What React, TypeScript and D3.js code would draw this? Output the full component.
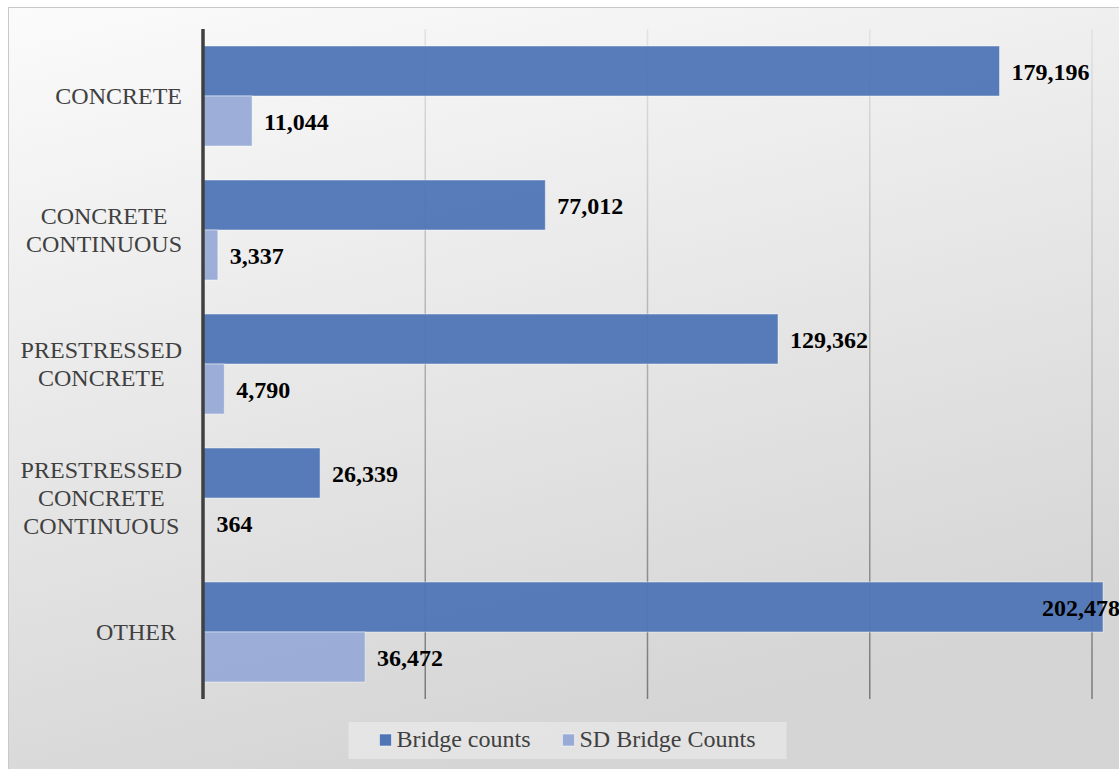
import React, { useEffect, useRef } from 'react';
import * as d3 from 'd3';

const categories = [
  'CONCRETE',
  'CONCRETE\nCONTINUOUS',
  'PRESTRESSED\nCONCRETE',
  'PRESTRESSED\nCONCRETE\nCONTINUOUS',
  'OTHER ',
];
const bridgeCounts = [179196, 77012, 129362, 26339, 202478];
const sdBridgeCounts = [11044, 3337, 4790, 364, 36472];
const seriesNames = ['Bridge counts', 'SD Bridge Counts'];
const seriesColors = ['#4f75b5', '#98abd6'];
const xTicks = [0, 50000, 100000, 150000, 200000];

const W = 1119;
const H = 769;
const FONT = "'Liberation Serif', 'Times New Roman', serif";

export default function App() {
  const ref = useRef<SVGSVGElement>(null);

  useEffect(() => {
    const svg = d3.select(ref.current as SVGSVGElement);
    svg.selectAll('*').remove();

    const defs = svg.append('defs');
    const bg = defs
      .append('linearGradient')
      .attr('id', 'bgGrad')
      .attr('x1', 0)
      .attr('y1', 0)
      .attr('x2', 0.35)
      .attr('y2', 1);
    bg.append('stop').attr('offset', 0).attr('stop-color', '#fbfbfb');
    bg.append('stop').attr('offset', 1).attr('stop-color', '#d5d5d5');

    const plot = { left: 203, right: 1092, top: 29, bottom: 699 };

    const gg = defs
      .append('linearGradient')
      .attr('id', 'gridGrad')
      .attr('gradientUnits', 'userSpaceOnUse')
      .attr('x1', 0)
      .attr('y1', plot.top)
      .attr('x2', 0)
      .attr('y2', plot.bottom);
    gg.append('stop').attr('offset', 0).attr('stop-color', '#e2e2e2');
    gg.append('stop').attr('offset', 1).attr('stop-color', '#7a7a7a');

    // chart background
    svg
      .append('rect')
      .attr('x', 8.5)
      .attr('y', 7.5)
      .attr('width', W)
      .attr('height', H)
      .attr('fill', 'url(#bgGrad)')
      .attr('stroke', '#c9c9c9')
      .attr('stroke-width', 1);

    const x = d3.scaleLinear().domain([0, 200000]).range([plot.left, plot.right]);
    const y = d3
      .scaleBand<number>()
      .domain(d3.range(categories.length))
      .range([plot.top, plot.bottom])
      .padding(0);
    const inner = d3
      .scaleBand<number>()
      .domain([0, 1])
      .range([0, y.bandwidth()])
      .paddingInner(0)
      .paddingOuter(0.34);

    // gridlines
    svg
      .append('g')
      .selectAll('line')
      .data(xTicks.slice(1))
      .join('line')
      .attr('x1', (d) => x(d))
      .attr('x2', (d) => x(d))
      .attr('y1', plot.top)
      .attr('y2', plot.bottom)
      .attr('stroke', 'url(#gridGrad)')
      .attr('stroke-width', 1.5);

    const series = [bridgeCounts, sdBridgeCounts];

    // bars
    const barG = svg.append('g');
    series.forEach((vals, si) => {
      barG
        .append('g')
        .selectAll('rect')
        .data(vals)
        .join('rect')
        .attr('x', x(0))
        .attr('y', (_, i) => (y(i) as number) + (inner(si) as number))
        .attr('width', (d) => x(d) - x(0))
        .attr('height', inner.bandwidth())
        .attr('fill', seriesColors[si])
        .attr('fill-opacity', 0.95)
        .attr('stroke', 'rgba(255,255,255,0.45)')
        .attr('stroke-width', 1);
    });

    // axis line
    svg
      .append('line')
      .attr('x1', x(0))
      .attr('x2', x(0))
      .attr('y1', plot.top)
      .attr('y2', plot.bottom)
      .attr('stroke', '#404040')
      .attr('stroke-width', 3.5);

    // value labels
    const fmt = d3.format(',');
    const labG = svg.append('g');
    series.forEach((vals, si) => {
      vals.forEach((v, i) => {
        const cy = (y(i) as number) + (inner(si) as number) + inner.bandwidth() / 2;
        const t = labG
          .append('text')
          .attr('x', x(v) + 12)
          .attr('y', cy)
          .attr('dy', '0.36em')
          .attr('font-family', FONT)
          .attr('font-weight', 'bold')
          .attr('font-size', 24)
          .attr('fill', '#000')
          .text(fmt(v));
        const w = (t.node() as SVGTextElement).getComputedTextLength();
        if (x(v) + 12 + w > W) {
          t.attr('x', W + 1).attr('text-anchor', 'end');
        }
      });
    });

    // category labels
    const catG = svg.append('g');
    categories.forEach((c, i) => {
      const lines = c.split('\n');
      const cy = (y(i) as number) + y.bandwidth() / 2;
      const lh = 28;
      const t = catG
        .append('text')
        .attr('font-family', FONT)
        .attr('font-size', 24)
        .attr('fill', '#404040')
        .attr('text-anchor', 'middle')
        .style('white-space', 'pre');
      const tspans = lines.map((ln, li) =>
        t
          .append('tspan')
          .attr('x', 0)
          .attr('y', cy + 8 - ((lines.length - 1) * lh) / 2 + li * lh)
          .text(ln)
      );
      const maxW = d3.max(tspans, (s) => (s.node() as SVGTSpanElement).getComputedTextLength()) || 0;
      t.attr('transform', `translate(${plot.left - 21 - maxW / 2},0)`);
    });

    // legend
    const legG = svg.append('g');
    const sq = 12;
    const gap = 5;
    const itemGap = 32;
    const pad = 31;
    const items = seriesNames.map((name, si) => {
      const g = legG.append('g');
      g.append('rect')
        .attr('width', sq)
        .attr('height', sq)
        .attr('fill', seriesColors[si])
        .attr('stroke', 'rgba(255,255,255,0.5)')
        .attr('stroke-width', 1);
      const t = g
        .append('text')
        .attr('x', sq + gap)
        .attr('y', 13)
        .attr('font-family', FONT)
        .attr('font-size', 24)
        .attr('fill', '#404040')
        .text(name);
      const w = (t.node() as SVGTextElement).getComputedTextLength();
      return { g, w: sq + gap + w };
    });
    const total = d3.sum(items, (d) => d.w) + itemGap * (items.length - 1);
    const cx = (8 + W) / 2 + 4;
    const boxX = cx - total / 2 - pad;
    legG
      .insert('rect', ':first-child')
      .attr('x', boxX)
      .attr('y', 722)
      .attr('width', total + pad * 2)
      .attr('height', 37)
      .attr('fill', 'rgba(255,255,255,0.35)');
    let xx = cx - total / 2;
    items.forEach((it) => {
      it.g.attr('transform', `translate(${xx},734)`);
      xx += it.w + itemGap;
    });
  }, []);

  return (
    <svg
      ref={ref}
      width={W}
      height={H}
      style={{ position: 'absolute', left: 0, top: 0, display: 'block', background: '#fff' }}
    />
  );
}
